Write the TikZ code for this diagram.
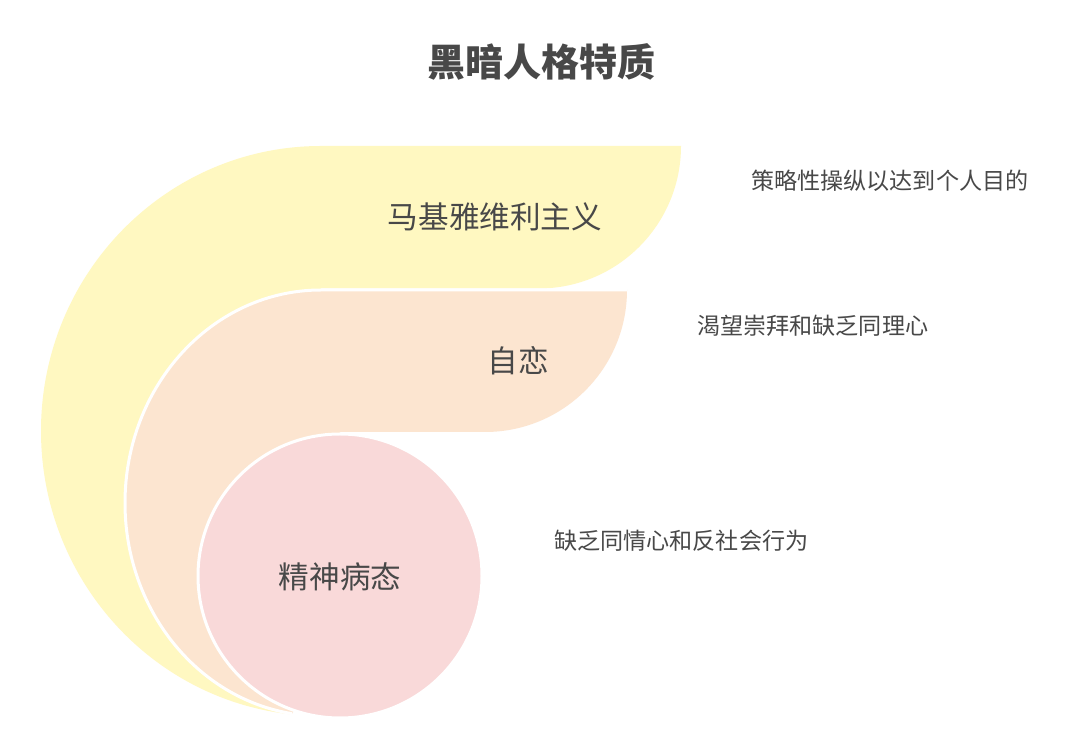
\documentclass[tikz,border=0pt]{standalone}
\usepackage{fontspec}
\setmainfont{Noto Sans CJK SC}
\definecolor{cyellow}{HTML}{FFF8C1}
\definecolor{cpeach}{HTML}{FCE5D0}
\definecolor{cpink}{HTML}{F9D9D9}
\definecolor{ctext}{HTML}{484848}
\begin{document}
\begin{tikzpicture}[x=1pt,y=1pt,
  sep/.style={draw=white,line width=3pt,line join=round},
  lbl/.style={text=ctext,inner sep=0pt,font=\fontsize{30.6}{32}\selectfont},
  desc/.style={text=ctext,inner sep=0pt,anchor=west,font=\fontsize{23.1}{25}\selectfont},
  ttl/.style={text=ctext,inner sep=0pt,font=\bfseries\fontsize{38}{40}\selectfont}]
\useasboundingbox (0,0) rectangle (1084,744);
\fill[white] (0,0) rectangle (1084,744);
% Machiavellianism layer
\fill[cyellow] (321,598) arc[start angle=90,end angle=264,x radius=280,y radius=285]
  -- (321,150) -- (321,455.5) -- (538.5,455.5) arc[start angle=-90,end angle=0,radius=142.5] -- (681,598) -- cycle;
% Narcissism layer
\fill[cpeach] (321,454) arc[start angle=90,end angle=261.5,x radius=196,y radius=213]
  -- (340,100) -- (340,312) -- (485,312) arc[start angle=-90,end angle=0,radius=142] -- (627,454) -- cycle;
\draw[sep] (627,454) -- (321,454) arc[start angle=90,end angle=261.5,x radius=196,y radius=213];
% Psychopathy
\path[sep,fill=cpink] (340,168) circle[radius=142];
\node[ttl] (title) at (541,682) {黑暗人格特质};
\node[lbl] (mach) at (495,527) {马基雅维利主义};
\node[lbl] (narc) at (518,383) {自恋};
\node[lbl] (psych) at (340,167) {精神病态};
\node[desc] (dmach) at (751,563) {策略性操纵以达到个人目的};
\node[desc] (dnarc) at (697,418) {渴望崇拜和缺乏同理心};
\node[desc] (dpsych) at (554,203) {缺乏同情心和反社会行为};
\end{tikzpicture}
\end{document}
